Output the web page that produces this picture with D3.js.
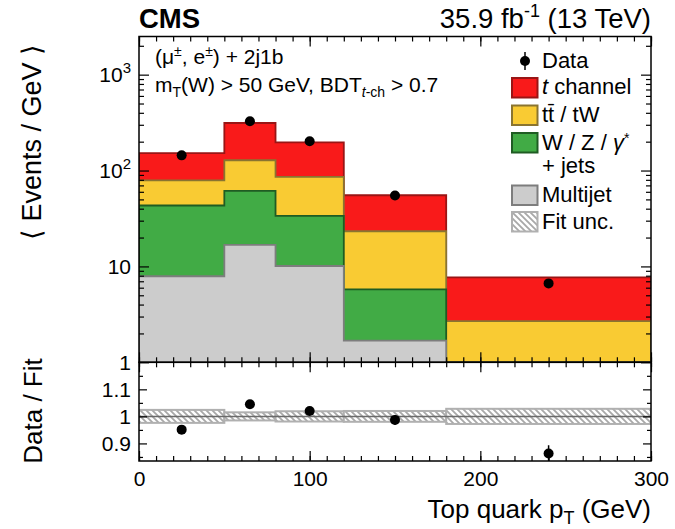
<!DOCTYPE html>
<html><head><meta charset="utf-8">
<script src="https://cdn.jsdelivr.net/npm/d3@7"></script>
<style>body{margin:0;background:#fff} text{font-family:"Liberation Sans",Arial,Helvetica,sans-serif;fill:#000}</style>
</head><body><svg id="c" width="675" height="529"></svg>
<script>
// ---------------- data ----------------
const binEdges   = [0, 50, 80, 120, 180, 300];
const multijet   = [7.9, 16.8, 10.1, 1.68, 0.3];
const wzJets     = [35.3, 44.5, 23.6, 4.08, 0.5];
const ttbarTW    = [35.8, 66.7, 52.1, 17.5, 1.89];
const tChannel   = [73, 185, 111, 32, 5.0];
const dataX      = [25, 65, 100, 150, 240];
const dataY      = [144, 326, 202, 55, 6.65];
const dataErr    = [1.7, 3.3, 2.2, 1.0, 0.22];
const ratioY     = [0.951, 1.045, 1.02, 0.987, 0.863];
const ratioErr   = [0.012, 0.01, 0.011, 0.018, 0.03];
const fitUnc     = [0.024, 0.015, 0.019, 0.02, 0.028];
const xTicks     = [0, 100, 200, 300];
const yTickVals  = [1, 10, 100, 1000];
const yTickLabels= [["1",""],["10",""],["10","2"],["10","3"]];
const ratioTicks = [0.9, 1, 1.1];
const ratioLabels= ["0.9", "1", "1.1"];

// ---------------- layout ----------------
const svg = d3.select("#c");
const X0 = 139, X1 = 651, YT = 36.5, YB = 362.3, RB = 461;
const x  = d3.scaleLinear().domain([0, 300]).range([X0, X1]);
const y  = d3.scaleLog().domain([1, 2500]).range([YB, YT]).clamp(true);
const yr = d3.scaleLinear().domain([0.835, 1.2]).range([RB, YB]);

const defs = svg.append("defs");
defs.append("clipPath").attr("id","clipTop").append("rect")
  .attr("x",X0).attr("y",YT).attr("width",X1-X0).attr("height",YB-YT);
defs.append("clipPath").attr("id","clipRat").append("rect")
  .attr("x",X0).attr("y",YB).attr("width",X1-X0).attr("height",RB-YB);
const pat = defs.append("pattern").attr("id","hatch").attr("patternUnits","userSpaceOnUse")
  .attr("width",6).attr("height",6);
pat.append("rect").attr("width",6).attr("height",6).attr("fill","#fff");
pat.append("path").attr("d","M-1,-1 L7,7 M-1,5 L1,7 M5,-1 L7,1")
  .attr("stroke","#a8a8a8").attr("stroke-width",1.8);

// ---------------- stack ----------------
const comps = [
  {vals: multijet, fill: "#cccccc", stroke: "#7d7d7d"},
  {vals: wzJets,   fill: "#41ab45", stroke: "#1f5c23"},
  {vals: ttbarTW,  fill: "#f9cb33", stroke: "#8a7430"},
  {vals: tChannel, fill: "#f91a1a", stroke: "#9a1515"}
];
const running = binEdges.slice(1).map(() => 0);
comps.forEach(c => { c.cum = c.vals.map((v, i) => (running[i] += v)); });

const area = d3.area().curve(d3.curveStepAfter)
  .x(d => x(d.e)).y0(YB + 2).y1(d => y(Math.max(d.v, 1e-3)));
const gTop = svg.append("g").attr("clip-path","url(#clipTop)");
comps.slice().reverse().forEach(c => {
  const pts = binEdges.map((e, i) => ({e, v: c.cum[Math.min(i, c.cum.length - 1)]}));
  gTop.append("path").attr("d", area(pts))
    .attr("fill", c.fill).attr("stroke", c.stroke).attr("stroke-width", 1.8);
});

// data points
gTop.selectAll(".eb").data(dataX).enter().append("line")
  .attr("x1", d => x(d)).attr("x2", d => x(d))
  .attr("y1", (d, i) => y(dataY[i] - dataErr[i])).attr("y2", (d, i) => y(dataY[i] + dataErr[i]))
  .attr("stroke","#000").attr("stroke-width",1.5);
gTop.selectAll(".pt").data(dataX).enter().append("circle")
  .attr("cx", d => x(d)).attr("cy", (d, i) => y(dataY[i])).attr("r", 5).attr("fill","#000");

// ---------------- ratio ----------------
const gR = svg.append("g").attr("clip-path","url(#clipRat)");
gR.selectAll(".band").data(fitUnc).enter().append("rect")
  .attr("x", (d, i) => x(binEdges[i])).attr("width", (d, i) => x(binEdges[i+1]) - x(binEdges[i]))
  .attr("y", d => yr(1 + d)).attr("height", d => yr(1 - d) - yr(1 + d))
  .attr("fill","url(#hatch)").attr("stroke","#b0b0b0").attr("stroke-width",2);
gR.append("line").attr("x1", x(0)).attr("x2", x(300)).attr("y1", yr(1)).attr("y2", yr(1))
  .attr("stroke","#6a6a6a").attr("stroke-width",1.5);
gR.selectAll(".reb").data(dataX).enter().append("line")
  .attr("x1", d => x(d)).attr("x2", d => x(d))
  .attr("y1", (d, i) => yr(ratioY[i] - ratioErr[i])).attr("y2", (d, i) => yr(ratioY[i] + ratioErr[i]))
  .attr("stroke","#000").attr("stroke-width",1.5);
gR.selectAll(".rpt").data(dataX).enter().append("circle")
  .attr("cx", d => x(d)).attr("cy", (d, i) => yr(ratioY[i])).attr("r", 5).attr("fill","#000");

// ---------------- axes / ticks ----------------
function ticks(axis, tx, ty) {
  const g = svg.append("g").attr("transform", `translate(${tx},${ty})`).call(axis);
  g.select(".domain").remove();
  g.selectAll("line").attr("stroke","#000").attr("stroke-width",1.2);
  return g;
}
const xMinor = d3.range(0, 301, 10);
// top panel x ticks
ticks(d3.axisBottom(x).tickValues(xMinor).tickSize(-5).tickFormat(""), 0, YB);
ticks(d3.axisBottom(x).tickValues(xTicks).tickSize(-10).tickFormat(""), 0, YB);
ticks(d3.axisTop(x).tickValues(xMinor).tickSize(-5).tickFormat(""), 0, YT);
ticks(d3.axisTop(x).tickValues(xTicks).tickSize(-10).tickFormat(""), 0, YT);
// ratio x ticks
ticks(d3.axisTop(x).tickValues(xMinor).tickSize(-5).tickFormat(""), 0, YB);
ticks(d3.axisTop(x).tickValues(xTicks).tickSize(-10).tickFormat(""), 0, YB);
ticks(d3.axisBottom(x).tickValues(xMinor).tickSize(-5).tickFormat(""), 0, RB);
const xl = ticks(d3.axisBottom(x).tickValues(xTicks).tickSize(-10).tickPadding(10)
  .tickFormat(d => String(d)), 0, RB);
xl.selectAll("text").attr("font-size", 21).attr("font-family", '"Liberation Sans",Arial,sans-serif');

// log y ticks
const yMinor = [];
[1, 10, 100, 1000].forEach(dec => { for (let k = 2; k <= 9; k++) if (dec * k <= 2500) yMinor.push(dec * k); });
ticks(d3.axisLeft(y).tickValues(yMinor).tickSize(-5).tickFormat(""), X0, 0);
ticks(d3.axisLeft(y).tickValues(yTickVals).tickSize(-10).tickFormat(""), X0, 0);
ticks(d3.axisRight(y).tickValues(yMinor).tickSize(-5).tickFormat(""), X1, 0);
ticks(d3.axisRight(y).tickValues(yTickVals).tickSize(-10).tickFormat(""), X1, 0);
yTickVals.forEach((v, i) => {
  const t = svg.append("text").attr("x", X0 - 8).attr("y", y(v) + 7.5)
    .attr("text-anchor","end").attr("font-size", 21);
  t.append("tspan").text(yTickLabels[i][0]);
  if (yTickLabels[i][1]) t.append("tspan").attr("dy", -9).attr("font-size", 15).text(yTickLabels[i][1]);
});
// ratio y ticks
const rMinor = [0.85, 0.95, 1.05, 1.15];
ticks(d3.axisLeft(yr).tickValues(rMinor).tickSize(-4).tickFormat(""), X0, 0);
const ryl = ticks(d3.axisLeft(yr).tickValues(ratioTicks).tickSize(-8).tickPadding(8)
  .tickFormat((d, i) => ratioLabels[i]), X0, 0);
ryl.selectAll("text").attr("font-size", 21).attr("font-family", '"Liberation Sans",Arial,sans-serif');
ticks(d3.axisRight(yr).tickValues(rMinor).tickSize(-4).tickFormat(""), X1, 0);
ticks(d3.axisRight(yr).tickValues(ratioTicks).tickSize(-8).tickFormat(""), X1, 0);

// frames
svg.append("rect").attr("x",X0).attr("y",YT).attr("width",X1-X0).attr("height",YB-YT)
  .attr("fill","none").attr("stroke","#000").attr("stroke-width",1.5);
svg.append("rect").attr("x",X0).attr("y",YB).attr("width",X1-X0).attr("height",RB-YB)
  .attr("fill","none").attr("stroke","#000").attr("stroke-width",1.5);

// ---------------- texts ----------------
svg.append("text").attr("x", X0).attr("y", 28).attr("font-size", 27.5).attr("font-weight","bold").text("CMS");
const lum = svg.append("text").attr("x", X1).attr("y", 28).attr("font-size", 27.5).attr("text-anchor","end");
lum.append("tspan").text("35.9 fb");
lum.append("tspan").attr("dy", -11).attr("font-size", 18).text("-1");
lum.append("tspan").attr("dy", 11).text(" (13 TeV)");

const l1 = svg.append("text").attr("x", 155).attr("y", 64).attr("font-size", 21);
l1.append("tspan").text("(μ");
l1.append("tspan").attr("dy", -8).attr("font-size", 14).text("±");
l1.append("tspan").attr("dy", 8).text(", e");
l1.append("tspan").attr("dy", -8).attr("font-size", 14).text("±");
l1.append("tspan").attr("dy", 8).text(") + 2j1b");
const l2 = svg.append("text").attr("x", 155).attr("y", 92).attr("font-size", 21);
l2.append("tspan").text("m");
l2.append("tspan").attr("dy", 5).attr("font-size", 14).text("T");
l2.append("tspan").attr("dy", -5).text("(W) > 50 GeV, BDT");
l2.append("tspan").attr("dy", 5).attr("font-size", 14).attr("font-style","italic").text("t");
l2.append("tspan").attr("font-size", 14).text("-ch");
l2.append("tspan").attr("dy", -5).text(" > 0.7");

// axis titles
svg.append("text").attr("transform","translate(41,142) rotate(-90)").attr("text-anchor","middle")
  .attr("font-size", 27).text("⟨ Events / GeV ⟩");
svg.append("text").attr("transform","translate(42,411) rotate(-90)").attr("text-anchor","middle")
  .attr("font-size", 26).text("Data / Fit");
const xt = svg.append("text").attr("x", X1).attr("y", 518).attr("text-anchor","end").attr("font-size", 26);
xt.append("tspan").text("Top quark p");
xt.append("tspan").attr("dy", 6).attr("font-size", 18).text("T");
xt.append("tspan").attr("dy", -6).text(" (GeV)");

// ---------------- legend ----------------
const LX = 512, LW = 25.5, LH = 19.5, TX = 542;
svg.append("line").attr("x1",525).attr("x2",525).attr("y1",52).attr("y2",70).attr("stroke","#000").attr("stroke-width",1.5);
svg.append("circle").attr("cx",525).attr("cy",61).attr("r",5).attr("fill","#000");
svg.append("text").attr("x",TX).attr("y",68).attr("font-size",22).text("Data");
const legBoxes = [
  {y: 78,  fill: "#f91a1a", stroke: "#9a1515"},
  {y: 105.5, fill: "#f9cb33", stroke: "#8a7430"},
  {y: 133, fill: "#41ab45", stroke: "#1f5c23"},
  {y: 185.5, fill: "#cccccc", stroke: "#7d7d7d"},
  {y: 212, fill: "url(#hatch)", stroke: "#b0b0b0"}
];
svg.selectAll(".lb").data(legBoxes).enter().append("rect")
  .attr("x", LX).attr("y", d => d.y).attr("width", LW).attr("height", LH)
  .attr("fill", d => d.fill).attr("stroke", d => d.stroke).attr("stroke-width", 2);
const t1 = svg.append("text").attr("x",TX).attr("y",94).attr("font-size",22);
t1.append("tspan").attr("font-style","italic").text("t");
t1.append("tspan").text(" channel");
svg.append("text").attr("x",TX).attr("y",122).attr("font-size",22).text("tt\u0304 / tW");
const t3 = svg.append("text").attr("x",TX).attr("y",149.5).attr("font-size",22);
t3.append("tspan").text("W / Z / ");
t3.append("tspan").attr("font-style","italic").text("γ");
t3.append("tspan").attr("dy",-7).attr("font-size",14).text("*");
svg.append("text").attr("x",TX).attr("y",173).attr("font-size",22).text("+ jets");
svg.append("text").attr("x",TX).attr("y",202).attr("font-size",22).text("Multijet");
svg.append("text").attr("x",TX).attr("y",228.5).attr("font-size",22).text("Fit unc.");
</script></body></html>
